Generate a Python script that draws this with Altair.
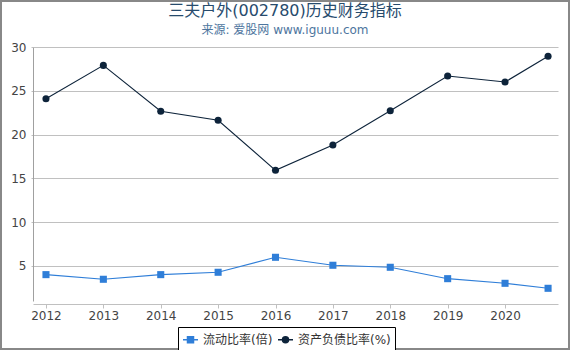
import altair as alt
import pandas as pd

years = [2012, 2013, 2014, 2015, 2016, 2017, 2018, 2019, 2020, 2020.75]
current_ratio = [4.01, 3.48, 4.01, 4.28, 5.99, 5.08, 4.85, 3.55, 3.02, 2.45]
debt_ratio = [24.10, 27.90, 22.66, 21.63, 15.92, 18.81, 22.73, 26.69, 26.00, 28.94]
series_names = ["流动比率(倍)", "资产负债比率(%)"]
series_colors = ["#2f7ed8", "#0d233a"]
year_ticks = [2012, 2013, 2014, 2015, 2016, 2017, 2018, 2019, 2020]

rows = []
for y, v in zip(years, current_ratio):
    rows.append({"year": y, "value": v, "series": series_names[0]})
for y, v in zip(years, debt_ratio):
    rows.append({"year": y, "value": v, "series": series_names[1]})
df = pd.DataFrame(rows)

FONT = "DejaVu Sans, Noto Sans CJK SC"
square_path = "M-1,0H-0.4M0.4,0H1M-0.4,-0.4H0.4V0.4H-0.4Z"
circle_path = "M-1,0H-0.4M0.4,0H1M0.4,0A0.4,0.4 0 1,1 -0.4,0A0.4,0.4 0 1,1 0.4,0Z"

color_scale = alt.Scale(domain=series_names, range=series_colors)
shape_scale = alt.Scale(domain=series_names, range=[square_path, circle_path])

legend = alt.Legend(
    title=None, orient="none", legendX=145, legendY=280, direction="horizontal",
    strokeColor="black", padding=4, labelFont=FONT, labelFontSize=12,
    labelColor="#333333", symbolSize=225, symbolStrokeWidth=1.5, symbolOpacity=1,
    columnPadding=2, labelOffset=4, fillColor="white",
)

x_enc = alt.X(
    "year:Q",
    scale=alt.Scale(domain=[2011.774, 2020.923], nice=False, zero=False),
    axis=alt.Axis(
        title=None, values=year_ticks, format="d", grid=False, offset=3,
        domainColor="#C0C0C0", tickColor="#C0C0C0", tickSize=4,
        labelFont=FONT, labelFontSize=12, labelColor="#444444", labelPadding=2,
    ),
)
y_enc = alt.Y(
    "value:Q",
    scale=alt.Scale(domain=[1, 30], nice=False, zero=False),
    axis=alt.Axis(
        title=None, values=[5, 10, 15, 20, 25, 30], grid=True, gridColor="#C0C0C0",
        domainColor="#A0A0A0", tickColor="#C0C0C0", tickSize=2,
        labelFont=FONT, labelFontSize=12, labelColor="#444444", labelPadding=5,
    ),
)

base = alt.Chart(df).encode(x=x_enc, y=y_enc)
color_enc = alt.Color("series:N", scale=color_scale, legend=legend)

legend_layer = base.mark_point(filled=True, size=0, opacity=1).encode(
    color=color_enc,
    stroke=alt.Stroke("series:N", scale=color_scale, legend=legend),
    shape=alt.Shape("series:N", scale=shape_scale, legend=legend),
)

lines = base.mark_line(strokeWidth=1.1).encode(color=color_enc)

pts_a = base.transform_filter(alt.datum.series == series_names[0]).mark_point(
    filled=True, size=50, opacity=1, shape="square"
).encode(color=color_enc)
pts_b = base.transform_filter(alt.datum.series == series_names[1]).mark_point(
    filled=True, size=50, opacity=1, shape="circle"
).encode(color=color_enc)

frame = alt.Chart(alt.Data(values=[{"a": 1}])).mark_rect(
    fill=None, stroke="#888888", strokeWidth=2
).encode(
    x=alt.value(-32), x2=alt.value(536), y=alt.value(-46), y2=alt.value(302)
)

chart = alt.layer(legend_layer, lines, pts_a, pts_b, frame).properties(
    width=525, height=254,
    autosize=alt.AutoSizeParams(type="none"),
    padding={"left": 33, "top": 47, "right": 12, "bottom": 49},
    title=alt.Title(
        "三夫户外(002780)历史财务指标",
        subtitle="来源: 爱股网 www.iguuu.com",
        anchor="middle", frame="group", dx=-10.5, offset=-36,
        font=FONT, fontSize=16, fontWeight="normal", color="#274b6d",
        subtitleFont=FONT, subtitleFontSize=12, subtitleColor="#4d759e",
        subtitlePadding=6,
    ),
).configure_view(stroke=None)

chart.save("out.html", embed_options={"renderer": "svg", "actions": False})
